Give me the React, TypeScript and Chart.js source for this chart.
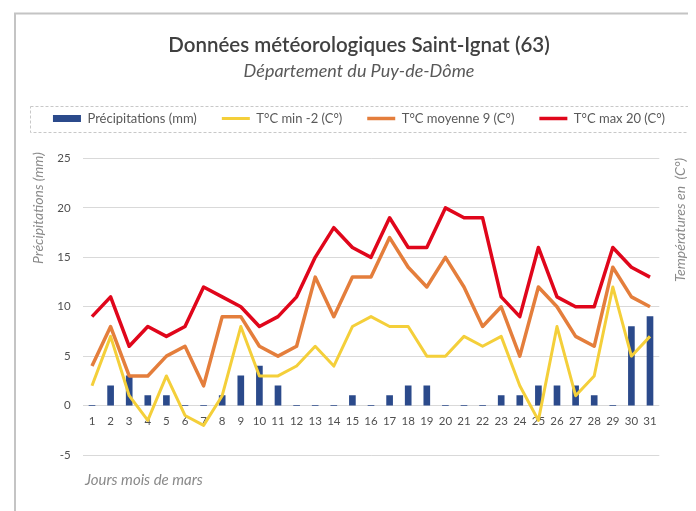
import React, { useEffect, useRef } from "react";
import { Chart, registerables } from "chart.js";

Chart.register(...registerables);

const days = ["1","2","3","4","5","6","7","8","9","10","11","12","13","14","15","16","17","18","19","20","21","22","23","24","25","26","27","28","29","30","31"];
const precipitations = [0,2,3,1,1,0,0,1,3,4,2,0,0,0,1,0,1,2,2,0,0,0,1,1,2,2,2,1,0,8,9];
const tMin = [2,7,1,-1.5,3,-1,-2,1,8,3,3,4,6,4,8,9,8,8,5,5,7,6,7,2,-1.5,8,1,3,12,5,7];
const tMoy = [4,8,3,3,5,6,2,9,9,6,5,6,13,9,13,13,17,14,12,15,12,8,10,5,12,10,7,6,14,11,10];
const tMax = [9,11,6,8,7,8,12,11,10,8,9,11,15,18,16,15,19,16,16,20,19,19,11,9,16,11,10,10,16,14,13];
const yTicks = { min: -5, max: 25, step: 5 };

const seriesLabels = ["Précipitations (mm)", "T°C min -2 (C°)", "T°C moyenne 9 (C°)", "T°C max 20 (C°)"];
const titleText = "Données météorologiques Saint-Ignat (63)";
const subtitleText = "Département du Puy-de-Dôme";
const leftTitle = "Précipitations (mm)";
const rightTitle = "Températures en  (C°)";
const bottomTitle = "Jours mois de mars";

const FONT = "Lato, 'Open Sans', sans-serif";

const decorPlugin = {
  id: "decor",
  beforeDraw(chart: any) {
    const ctx = chart.ctx;
    ctx.save();
    ctx.strokeStyle = "#c4c4c4";
    ctx.lineWidth = 2;
    ctx.beginPath();
    ctx.moveTo(7, chart.height + 5);
    ctx.lineTo(7, 5.5);
    ctx.lineTo(chart.width + 5, 5.5);
    ctx.stroke();
    ctx.setLineDash([3, 2]);
    ctx.lineWidth = 1;
    ctx.strokeStyle = "#c8c8c8";
    ctx.strokeRect(22.5, 98.5, 660, 26);
    ctx.restore();
  },
  afterDraw(chart: any) {
    const ctx = chart.ctx;
    ctx.save();
    ctx.fillStyle = "#8a8a8a";
    ctx.font = "italic 14px " + FONT;
    ctx.textBaseline = "middle";
    ctx.textAlign = "center";
    ctx.save();
    ctx.translate(30, 200);
    ctx.rotate(-Math.PI / 2);
    ctx.fillText(leftTitle, 0, 0);
    ctx.restore();
    ctx.save();
    ctx.translate(672, 212);
    ctx.rotate(-Math.PI / 2);
    ctx.fillText(rightTitle, 0, 0);
    ctx.restore();
    ctx.textAlign = "left";
    ctx.font = "italic 15px " + FONT;
    ctx.fillText(bottomTitle, 77, 472);
    ctx.restore();
  },
};

export default function App() {
  const ref = useRef<HTMLCanvasElement>(null);
  useEffect(() => {
    if (!ref.current) return;
    const chart = new Chart(ref.current, {
      type: "bar",
      data: {
        labels: days,
        datasets: [
          {
            type: "bar",
            label: seriesLabels[0],
            data: precipitations,
            backgroundColor: "#2b4a8b",
            borderWidth: 0,
            barThickness: 6,
            yAxisID: "y",
            order: 5,
            pointStyle: "rect",
          } as any,
          {
            type: "line",
            label: seriesLabels[1],
            data: tMin,
            borderColor: "#f4cf3a",
            backgroundColor: "#f4cf3a",
            borderWidth: 3,
            pointRadius: 0,
            tension: 0,
            borderJoinStyle: "round",
            yAxisID: "y1",
            order: 1,
            pointStyle: "line",
          },
          {
            type: "line",
            label: seriesLabels[2],
            data: tMoy,
            borderColor: "#e47e3c",
            backgroundColor: "#e47e3c",
            borderWidth: 3.5,
            pointRadius: 0,
            tension: 0,
            borderJoinStyle: "round",
            yAxisID: "y1",
            order: 2,
            pointStyle: "line",
          },
          {
            type: "line",
            label: seriesLabels[3],
            data: tMax,
            borderColor: "#e0061b",
            backgroundColor: "#e0061b",
            borderWidth: 3.5,
            pointRadius: 0,
            tension: 0,
            borderJoinStyle: "round",
            yAxisID: "y1",
            order: 3,
            pointStyle: "line",
          },
        ],
      },
      options: {
        animation: false,
        responsive: false,
        devicePixelRatio: 1,
        layout: { padding: { top: 0, left: 14, right: 0, bottom: 56 } },
        plugins: {
          tooltip: { enabled: false },
          title: {
            display: true,
            text: titleText,
            color: "#404040",
            font: { family: FONT, size: 20.5, weight: "600" },
            padding: { top: 24.7, bottom: 0 },
          },
          subtitle: {
            display: true,
            text: subtitleText,
            color: "#595959",
            font: { family: FONT, size: 18, style: "italic" },
            padding: { top: 3.3, bottom: 4.8 },
          },
          legend: {
            display: true,
            position: "top",
            labels: {
              usePointStyle: true,
              pointStyleWidth: 28,
              boxWidth: 28,
              boxHeight: 7,
              padding: 25,
              color: "#595959",
              font: { family: FONT, size: 13 },
              sort: (a: any, b: any) => a.datasetIndex - b.datasetIndex,
            },
          },
        },
        scales: {
          x: {
            type: "category",
            position: { y: 0 } as any,
            grid: { display: false, drawTicks: false },
            border: { display: false },
            ticks: {
              autoSkip: false,
              maxRotation: 0,
              padding: 9,
              color: "#505050",
              font: { family: FONT, size: 11.5 },
            },
          },
          xTop: {
            type: "category",
            position: "top",
            display: true,
            grid: { display: false, drawTicks: false },
            border: { display: false },
            ticks: { display: false },
            afterFit: (s: any) => {
              s.height = 23.5;
            },
          },
          y: {
            type: "linear",
            position: "left",
            min: yTicks.min,
            max: yTicks.max,
            ticks: {
              stepSize: yTicks.step,
              padding: 12,
              color: "#505050",
              font: { family: FONT, size: 11.5 },
            },
            grid: { color: "#d9d9d9", lineWidth: 1, drawTicks: false },
            border: { display: false },
            afterFit: (s: any) => {
              s.width = 60.7;
            },
          },
          y1: {
            type: "linear",
            position: "right",
            min: yTicks.min,
            max: yTicks.max,
            display: true,
            ticks: { display: false, stepSize: yTicks.step },
            grid: { display: false, drawTicks: false },
            border: { display: false },
            afterFit: (s: any) => {
              s.width = 36.7;
            },
          },
        },
      } as any,
      plugins: [decorPlugin],
    });
    return () => chart.destroy();
  }, []);
  return (
    <div style={{ width: 688, height: 503 }}>
      <canvas ref={ref} width={688} height={503} />
    </div>
  );
}
